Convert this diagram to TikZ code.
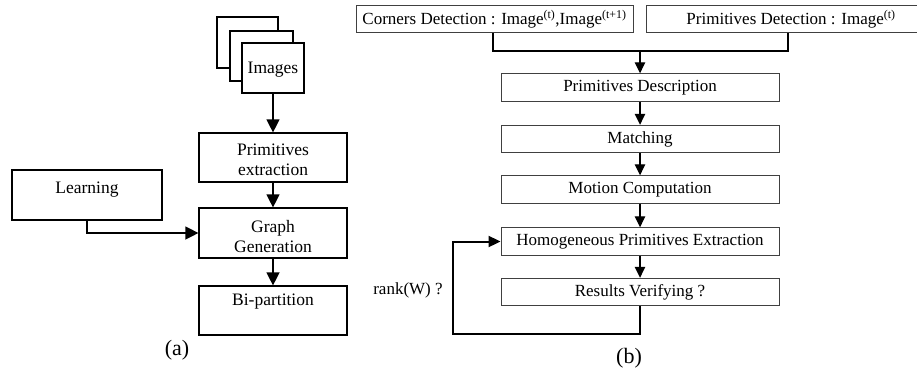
\documentclass[tikz,border=0pt]{standalone}
\usepackage{fontspec}
\setmainfont{Liberation Serif}
\usetikzlibrary{arrows.meta}
\begin{document}
\begin{tikzpicture}[x=1pt,y=-1pt,
  boxa/.style={draw=black, line width=1.2pt, fill=white, inner sep=0pt},
  boxb/.style={draw=black!75, line width=0.9pt, inner sep=0pt,
    minimum width=278pt, minimum height=27.5pt, font=\fontsize{17}{20}\selectfont},
  txta/.style={font=\fontsize{17.5}{20}\selectfont, align=center, inner sep=0pt},
  txtb/.style={font=\fontsize{17}{20}\selectfont, inner sep=0pt},
  caption/.style={font=\fontsize{22}{24}\selectfont, inner sep=0pt},
  flowa/.style={line width=1.3pt, -{Triangle[width=13pt,length=13pt]}},
  flowb/.style={line width=1.3pt, -{Triangle[width=10.5pt,length=11pt]}},
  joinline/.style={line width=2.2pt},
  loopline/.style={line width=2pt, -{Triangle[width=11pt,length=12pt]}}
]
\clip (0,0) rectangle (917,376);
\fill[white] (0,0) rectangle (917,376);

% ---------- (a) ----------
% stack of image sheets
\draw[boxa] (217,17) rectangle (278,68);
\draw[boxa] (230,31) rectangle (293,81);
\node[boxa, minimum width=62pt, minimum height=50pt] (img) at (273,68) {};
\node[txta] (imgt) at (273,70) {Images};

\node[boxa, minimum width=148pt, minimum height=49pt] (prim) at (273,157.5) {};
\node[txta] (primt) at (273,160) {Primitives\\extraction};

\node[boxa, minimum width=148pt, minimum height=50pt] (graph) at (273,233) {};
\node[txta] (grapht) at (273,237) {Graph\\Generation};

\node[boxa, minimum width=148pt, minimum height=49pt] (bi) at (273,310.5) {};
\node[txta] (bit) at (273,302) {Bi-partition};

\node[boxa, minimum width=150pt, minimum height=50pt] (learn) at (87,195) {};
\node[txta] (learnt) at (87,190) {Learning};

\draw[flowa] (img.south) -- (prim.north);
\draw[flowa] (prim.south) -- (graph.north);
\draw[flowa] (graph.south) -- (bi.north);
\draw[flowa] (learn.south) |- (graph.west);

\node[caption] (capa) at (177,350) {(a)};

% ---------- (b) ----------
\node[boxb, minimum width=277pt] (corners) at (494.5,19)
  {Corners Detection : Image\textsuperscript{(t)},Image\textsuperscript{(t+1)}};
\node[boxb, minimum width=290pt] (primdet) at (791,19)
  {Primitives Detection : Image\textsuperscript{(t)}};

\node[boxb] (desc)   at (640,87.5)  {Primitives Description};
\node[boxb] (match)  at (640,139)   {Matching};
\node[boxb] (motion) at (640,189.5) {Motion Computation};
\node[boxb] (homog)  at (640,241.5) {Homogeneous Primitives Extraction};
\node[boxb] (res)    at (640,292)   {Results Verifying ?};

% merge of the two detection branches
\coordinate (mL) at (493,51);
\coordinate (mR) at (788,51);
\coordinate (mM) at (640,51);
\draw[joinline] (corners.south -| mL) -- (mL) -- (mR) -- (primdet.south -| mR);
\draw[flowb] (mM) -- (desc.north);

\draw[flowb] (desc.south) -- (match.north);
\draw[flowb] (match.south) -- (motion.north);
\draw[flowb] (motion.south) -- (homog.north);
\draw[flowb] (homog.south) -- (res.north);

% feedback loop
\coordinate (lb) at (453,334);
\draw[loopline] (res.south) |- (lb) |- (homog.west);

\node[txtb] (rank) at (408,290) {rank(W) ?};
\node[caption] (capb) at (629,358) {(b)};
\end{tikzpicture}
\end{document}
